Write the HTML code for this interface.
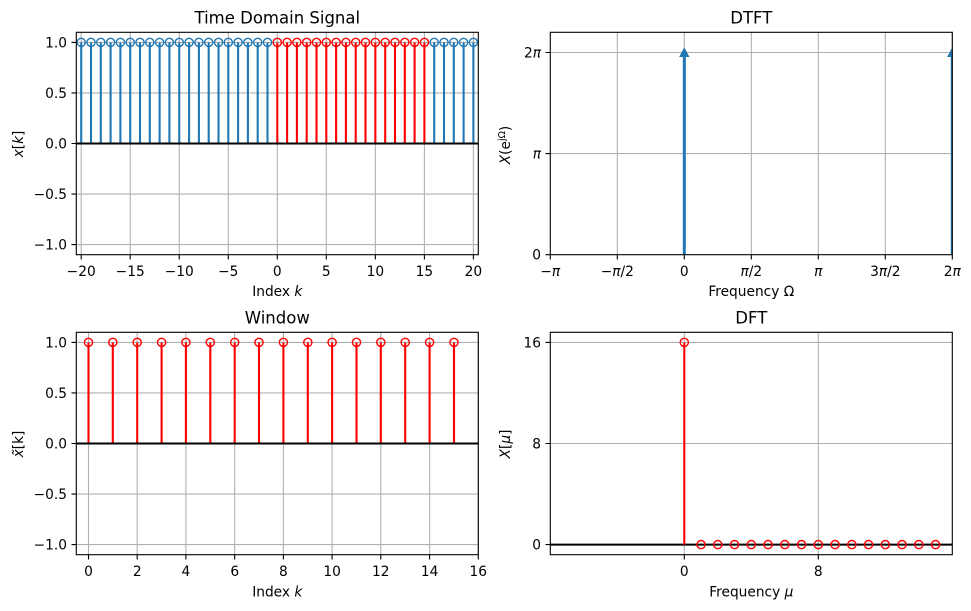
<!DOCTYPE html>
<html><head><meta charset="utf-8"><style>
html,body{margin:0;padding:0;background:#fff;}
svg{display:block;}
text{font-family:"DejaVu Sans","Liberation Sans",sans-serif;fill:#000;}
.t{font-size:13.75px;}
.ti{font-size:16.5px;}
.i{font-style:italic;}
</style></head><body>
<svg width="971" height="611" viewBox="0 0 971 611" xmlns="http://www.w3.org/2000/svg">
<defs>
<clipPath id="cTR"><rect x="550.3" y="32.3" width="402" height="222.4"/></clipPath>
<clipPath id="cBR"><rect x="550.3" y="332.3" width="402" height="222.4"/></clipPath>
</defs>
<rect width="971" height="611" fill="#fff"/>

<!-- ============ TOP LEFT ============ -->
<g stroke="#b0b0b0" stroke-width="1.1" fill="none">
<path d="M81.2 32.3V254.7M130.2 32.3V254.7M179.25 32.3V254.7M228.3 32.3V254.7M277.3 32.3V254.7M326.3 32.3V254.7M375.35 32.3V254.7M424.4 32.3V254.7M473.4 32.3V254.7"/>
<path d="M76.3 42.4H478.3M76.3 92.95H478.3M76.3 143.5H478.3M76.3 194.05H478.3M76.3 244.6H478.3"/>
</g>
<path stroke="#1f77b4" stroke-width="2.1" fill="none" d="M81.2 143.5V42.4M91.0 143.5V42.4M100.8 143.5V42.4M110.6 143.5V42.4M120.4 143.5V42.4M130.2 143.5V42.4M140.0 143.5V42.4M149.8 143.5V42.4M159.6 143.5V42.4M169.4 143.5V42.4M179.25 143.5V42.4M189.1 143.5V42.4M198.9 143.5V42.4M208.7 143.5V42.4M218.5 143.5V42.4M228.3 143.5V42.4M238.1 143.5V42.4M247.9 143.5V42.4M257.7 143.5V42.4M267.5 143.5V42.4M434.2 143.5V42.4M444.0 143.5V42.4M453.8 143.5V42.4M463.6 143.5V42.4M473.4 143.5V42.4"/>
<path stroke="#ff0000" stroke-width="2.1" fill="none" d="M277.3 143.5V42.4M287.1 143.5V42.4M296.9 143.5V42.4M306.7 143.5V42.4M316.5 143.5V42.4M326.3 143.5V42.4M336.1 143.5V42.4M345.9 143.5V42.4M355.7 143.5V42.4M365.5 143.5V42.4M375.35 143.5V42.4M385.2 143.5V42.4M395.0 143.5V42.4M404.8 143.5V42.4M414.6 143.5V42.4M424.4 143.5V42.4"/>
<g stroke="#1f77b4" stroke-width="1.4" fill="none">
<circle cx="81.2" cy="42.4" r="4.1"/><circle cx="91.0" cy="42.4" r="4.1"/><circle cx="100.8" cy="42.4" r="4.1"/><circle cx="110.6" cy="42.4" r="4.1"/><circle cx="120.4" cy="42.4" r="4.1"/><circle cx="130.2" cy="42.4" r="4.1"/><circle cx="140.0" cy="42.4" r="4.1"/><circle cx="149.8" cy="42.4" r="4.1"/><circle cx="159.6" cy="42.4" r="4.1"/><circle cx="169.4" cy="42.4" r="4.1"/><circle cx="179.25" cy="42.4" r="4.1"/><circle cx="189.1" cy="42.4" r="4.1"/><circle cx="198.9" cy="42.4" r="4.1"/><circle cx="208.7" cy="42.4" r="4.1"/><circle cx="218.5" cy="42.4" r="4.1"/><circle cx="228.3" cy="42.4" r="4.1"/><circle cx="238.1" cy="42.4" r="4.1"/><circle cx="247.9" cy="42.4" r="4.1"/><circle cx="257.7" cy="42.4" r="4.1"/><circle cx="267.5" cy="42.4" r="4.1"/>
<circle cx="434.2" cy="42.4" r="4.1"/><circle cx="444.0" cy="42.4" r="4.1"/><circle cx="453.8" cy="42.4" r="4.1"/><circle cx="463.6" cy="42.4" r="4.1"/><circle cx="473.4" cy="42.4" r="4.1"/>
</g>
<g stroke="#ff0000" stroke-width="1.4" fill="none">
<circle cx="277.3" cy="42.4" r="4.1"/><circle cx="287.1" cy="42.4" r="4.1"/><circle cx="296.9" cy="42.4" r="4.1"/><circle cx="306.7" cy="42.4" r="4.1"/><circle cx="316.5" cy="42.4" r="4.1"/><circle cx="326.3" cy="42.4" r="4.1"/><circle cx="336.1" cy="42.4" r="4.1"/><circle cx="345.9" cy="42.4" r="4.1"/><circle cx="355.7" cy="42.4" r="4.1"/><circle cx="365.5" cy="42.4" r="4.1"/><circle cx="375.35" cy="42.4" r="4.1"/><circle cx="385.2" cy="42.4" r="4.1"/><circle cx="395.0" cy="42.4" r="4.1"/><circle cx="404.8" cy="42.4" r="4.1"/><circle cx="414.6" cy="42.4" r="4.1"/><circle cx="424.4" cy="42.4" r="4.1"/>
</g>
<path stroke="#000" stroke-width="2" d="M76.3 143.5H478.3"/>
<rect x="76.3" y="32.3" width="402" height="222.4" fill="none" stroke="#000" stroke-width="1.1"/>
<path stroke="#000" stroke-width="1.1" d="M81.2 254.7v4.8M130.2 254.7v4.8M179.25 254.7v4.8M228.3 254.7v4.8M277.3 254.7v4.8M326.3 254.7v4.8M375.35 254.7v4.8M424.4 254.7v4.8M473.4 254.7v4.8M76.3 42.4h-4.8M76.3 92.95h-4.8M76.3 143.5h-4.8M76.3 194.05h-4.8M76.3 244.6h-4.8"/>
<g class="t" text-anchor="middle">
<text x="81.2" y="276">−20</text><text x="130.2" y="276">−15</text><text x="179.25" y="276">−10</text><text x="228.3" y="276">−5</text><text x="277.3" y="276">0</text><text x="326.3" y="276">5</text><text x="375.35" y="276">10</text><text x="424.4" y="276">15</text><text x="473.4" y="276">20</text>
</g>
<g class="t" text-anchor="end">
<text x="67" y="47.4">1.0</text><text x="67" y="98">0.5</text><text x="67" y="148.5">0.0</text><text x="67" y="199">−0.5</text><text x="67" y="249.6">−1.0</text>
</g>
<text class="ti" x="277.3" y="23.5" text-anchor="middle">Time Domain Signal</text>
<text class="t" x="277.3" y="296" text-anchor="middle">Index <tspan class="i">k</tspan></text>
<text class="t" transform="translate(23,144) rotate(-90)" text-anchor="middle"><tspan class="i">x</tspan>[<tspan class="i">k</tspan>]</text>

<!-- ============ TOP RIGHT (DTFT) ============ -->
<g stroke="#b0b0b0" stroke-width="1.1" fill="none">
<path d="M617.3 32.3V254.7M684.3 32.3V254.7M751.3 32.3V254.7M818.3 32.3V254.7M885.3 32.3V254.7M952.3 32.3V254.7"/>
<path d="M550.3 153.6H952.3M550.3 52.5H952.3"/>
</g>
<g clip-path="url(#cTR)">
<path stroke="#1f77b4" stroke-width="3" d="M684.3 254.7V56M952.3 254.7V56"/>
<polygon fill="#1f77b4" points="684.3,47.3 679.1,57 689.5,57"/>
<polygon fill="#1f77b4" points="952.3,47.3 947.1,57 957.5,57"/>
</g>
<rect x="550.3" y="32.3" width="402" height="222.4" fill="none" stroke="#000" stroke-width="1.1"/>
<path stroke="#000" stroke-width="1.1" d="M550.3 254.7v4.8M617.3 254.7v4.8M684.3 254.7v4.8M751.3 254.7v4.8M818.3 254.7v4.8M885.3 254.7v4.8M952.3 254.7v4.8M550.3 254.7h-4.8M550.3 153.6h-4.8M550.3 52.5h-4.8"/>
<g class="t" text-anchor="middle">
<text x="550.3" y="276">−<tspan class="i">π</tspan></text>
<text x="617.3" y="276">−<tspan class="i">π</tspan>/2</text>
<text x="684.3" y="276">0</text>
<text x="751.3" y="276"><tspan class="i">π</tspan>/2</text>
<text x="818.3" y="276"><tspan class="i">π</tspan></text>
<text x="885.3" y="276">3<tspan class="i">π</tspan>/2</text>
<text x="952.3" y="276">2<tspan class="i">π</tspan></text>
</g>
<g class="t" text-anchor="end">
<text x="541" y="259.7">0</text><text x="541" y="158.6"><tspan class="i">π</tspan></text><text x="541" y="57.5">2<tspan class="i">π</tspan></text>
</g>
<text class="ti" x="751.3" y="23.5" text-anchor="middle">DTFT</text>
<text class="t" x="751.3" y="296" text-anchor="middle">Frequency Ω</text>
<text class="t" transform="translate(510,145) rotate(-90)" text-anchor="middle"><tspan class="i">X</tspan>(e<tspan font-size="9.5px" dy="-5">jΩ</tspan><tspan dy="5">)</tspan></text>

<!-- ============ BOTTOM LEFT (Window) ============ -->
<g stroke="#b0b0b0" stroke-width="1.1" fill="none">
<path d="M88.5 332.3V554.7M137.2 332.3V554.7M185.9 332.3V554.7M234.7 332.3V554.7M283.4 332.3V554.7M332.1 332.3V554.7M380.8 332.3V554.7M429.6 332.3V554.7M478.3 332.3V554.7"/>
<path d="M76.3 342.4H478.3M76.3 392.95H478.3M76.3 443.5H478.3M76.3 494.05H478.3M76.3 544.6H478.3"/>
</g>
<path stroke="#ff0000" stroke-width="2.1" fill="none" d="M88.5 443.5V342.4M112.8 443.5V342.4M137.2 443.5V342.4M161.6 443.5V342.4M185.9 443.5V342.4M210.3 443.5V342.4M234.7 443.5V342.4M259.0 443.5V342.4M283.4 443.5V342.4M307.8 443.5V342.4M332.1 443.5V342.4M356.5 443.5V342.4M380.8 443.5V342.4M405.2 443.5V342.4M429.6 443.5V342.4M454.0 443.5V342.4"/>
<g stroke="#ff0000" stroke-width="1.4" fill="none">
<circle cx="88.5" cy="342.4" r="4.1"/><circle cx="112.8" cy="342.4" r="4.1"/><circle cx="137.2" cy="342.4" r="4.1"/><circle cx="161.6" cy="342.4" r="4.1"/><circle cx="185.9" cy="342.4" r="4.1"/><circle cx="210.3" cy="342.4" r="4.1"/><circle cx="234.7" cy="342.4" r="4.1"/><circle cx="259.0" cy="342.4" r="4.1"/><circle cx="283.4" cy="342.4" r="4.1"/><circle cx="307.8" cy="342.4" r="4.1"/><circle cx="332.1" cy="342.4" r="4.1"/><circle cx="356.5" cy="342.4" r="4.1"/><circle cx="380.8" cy="342.4" r="4.1"/><circle cx="405.2" cy="342.4" r="4.1"/><circle cx="429.6" cy="342.4" r="4.1"/><circle cx="454.0" cy="342.4" r="4.1"/>
</g>
<path stroke="#000" stroke-width="2" d="M76.3 443.5H478.3"/>
<rect x="76.3" y="332.3" width="402" height="222.4" fill="none" stroke="#000" stroke-width="1.1"/>
<path stroke="#000" stroke-width="1.1" d="M88.5 554.7v4.8M137.2 554.7v4.8M185.9 554.7v4.8M234.7 554.7v4.8M283.4 554.7v4.8M332.1 554.7v4.8M380.8 554.7v4.8M429.6 554.7v4.8M478.3 554.7v4.8M76.3 342.4h-4.8M76.3 392.95h-4.8M76.3 443.5h-4.8M76.3 494.05h-4.8M76.3 544.6h-4.8"/>
<g class="t" text-anchor="middle">
<text x="88.5" y="576">0</text><text x="137.2" y="576">2</text><text x="185.9" y="576">4</text><text x="234.7" y="576">6</text><text x="283.4" y="576">8</text><text x="332.1" y="576">10</text><text x="380.8" y="576">12</text><text x="429.6" y="576">14</text><text x="478.3" y="576">16</text>
</g>
<g class="t" text-anchor="end">
<text x="67" y="347.4">1.0</text><text x="67" y="398">0.5</text><text x="67" y="448.5">0.0</text><text x="67" y="499">−0.5</text><text x="67" y="549.6">−1.0</text>
</g>
<text class="ti" x="277.3" y="323.5" text-anchor="middle">Window</text>
<text class="t" x="277.3" y="596.3" text-anchor="middle">Index <tspan class="i">k</tspan></text>
<text class="t" transform="translate(23,444) rotate(-90)" text-anchor="middle"><tspan class="i">x̃</tspan>[k]</text>

<!-- ============ BOTTOM RIGHT (DFT) ============ -->
<g stroke="#b0b0b0" stroke-width="1.1" fill="none">
<path d="M684.3 332.3V554.7M818.3 332.3V554.7"/>
<path d="M550.3 544.6H952.3M550.3 443.5H952.3M550.3 342.4H952.3"/>
</g>
<path stroke="#000" stroke-width="2" d="M550.3 544.6H952.3"/>
<path stroke="#ff0000" stroke-width="2.1" d="M684.3 544.6V342.4"/>
<g stroke="#ff0000" stroke-width="1.4" fill="none">
<circle cx="684.3" cy="342.4" r="4.1"/>
<circle cx="701.05" cy="544.6" r="4.1"/><circle cx="717.8" cy="544.6" r="4.1"/><circle cx="734.55" cy="544.6" r="4.1"/><circle cx="751.3" cy="544.6" r="4.1"/><circle cx="768.05" cy="544.6" r="4.1"/><circle cx="784.8" cy="544.6" r="4.1"/><circle cx="801.55" cy="544.6" r="4.1"/><circle cx="818.3" cy="544.6" r="4.1"/><circle cx="835.05" cy="544.6" r="4.1"/><circle cx="851.8" cy="544.6" r="4.1"/><circle cx="868.55" cy="544.6" r="4.1"/><circle cx="885.3" cy="544.6" r="4.1"/><circle cx="902.05" cy="544.6" r="4.1"/><circle cx="918.8" cy="544.6" r="4.1"/><circle cx="935.55" cy="544.6" r="4.1"/>
</g>
<rect x="550.3" y="332.3" width="402" height="222.4" fill="none" stroke="#000" stroke-width="1.1"/>
<path stroke="#000" stroke-width="1.1" d="M684.3 554.7v4.8M818.3 554.7v4.8M550.3 544.6h-4.8M550.3 443.5h-4.8M550.3 342.4h-4.8"/>
<g class="t" text-anchor="middle">
<text x="684.3" y="576">0</text><text x="818.3" y="576">8</text>
</g>
<g class="t" text-anchor="end">
<text x="541" y="549.6">0</text><text x="541" y="448.5">8</text><text x="541" y="347.4">16</text>
</g>
<text class="ti" x="751.3" y="323.5" text-anchor="middle">DFT</text>
<text class="t" x="751.3" y="596.3" text-anchor="middle">Frequency <tspan class="i">μ</tspan></text>
<text class="t" transform="translate(510,444) rotate(-90)" text-anchor="middle"><tspan class="i">X</tspan>[<tspan class="i">μ</tspan>]</text>
</svg>
</body></html>
